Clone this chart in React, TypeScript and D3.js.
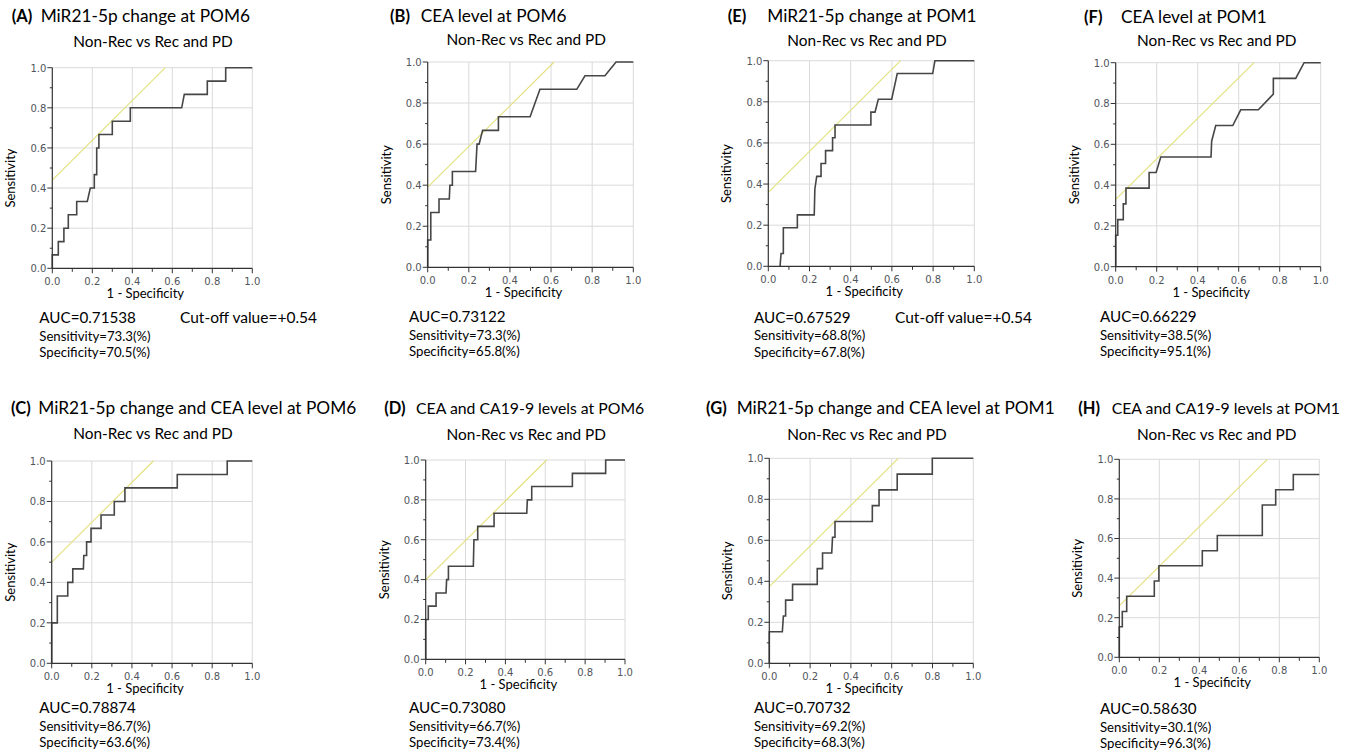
import React from 'react';
import * as d3 from 'd3';

type Pt = [number, number];

// ROC step curves: [1 - specificity, sensitivity]
const rocA: Pt[] = [
  [0, 0], [0, 0.067], [0.03, 0.067], [0.03, 0.133], [0.058, 0.133], [0.058, 0.2],
  [0.08, 0.2], [0.08, 0.267], [0.122, 0.267], [0.122, 0.333], [0.175, 0.333],
  [0.19, 0.4], [0.21, 0.4], [0.21, 0.467], [0.222, 0.467], [0.222, 0.6],
  [0.233, 0.6], [0.233, 0.667], [0.3, 0.667], [0.3, 0.733], [0.39, 0.733],
  [0.39, 0.8], [0.647, 0.8], [0.66, 0.867], [0.775, 0.867], [0.775, 0.933],
  [0.867, 0.933], [0.867, 1], [1, 1]
];
const rocB: Pt[] = [
  [0, 0], [0, 0.133], [0.015, 0.133], [0.015, 0.267], [0.055, 0.267], [0.055, 0.333],
  [0.105, 0.333], [0.108, 0.4], [0.12, 0.4], [0.12, 0.467], [0.233, 0.467],
  [0.24, 0.6], [0.25, 0.6], [0.267, 0.667], [0.344, 0.667], [0.344, 0.733],
  [0.498, 0.733], [0.546, 0.867], [0.725, 0.867], [0.765, 0.933], [0.862, 0.933],
  [0.916, 1], [1, 1]
];
const rocE: Pt[] = [
  [0.057, 0], [0.062, 0.0625], [0.073, 0.0625], [0.073, 0.1875], [0.141, 0.1875],
  [0.141, 0.25], [0.223, 0.25], [0.226, 0.375], [0.235, 0.4375], [0.256, 0.4375],
  [0.256, 0.5], [0.278, 0.5], [0.278, 0.5625], [0.312, 0.5625], [0.312, 0.625],
  [0.324, 0.625], [0.324, 0.6875], [0.498, 0.6875], [0.498, 0.75], [0.518, 0.75],
  [0.534, 0.8125], [0.599, 0.8125], [0.626, 0.9375], [0.798, 0.9375], [0.809, 1], [1, 1]
];
const rocF: Pt[] = [
  [0, 0], [0, 0.154], [0.01, 0.154], [0.01, 0.231], [0.037, 0.231], [0.037, 0.308],
  [0.05, 0.308], [0.05, 0.385], [0.163, 0.385], [0.163, 0.462], [0.197, 0.462],
  [0.22, 0.538], [0.465, 0.538], [0.468, 0.615], [0.488, 0.692], [0.571, 0.692],
  [0.61, 0.769], [0.696, 0.769], [0.769, 0.846], [0.769, 0.923], [0.878, 0.923],
  [0.919, 1], [1, 1]
];
const rocC: Pt[] = [
  [0, 0], [0, 0.2], [0.028, 0.2], [0.028, 0.333], [0.08, 0.333], [0.08, 0.4],
  [0.105, 0.4], [0.105, 0.467], [0.158, 0.467], [0.16, 0.533], [0.174, 0.533],
  [0.174, 0.6], [0.196, 0.6], [0.196, 0.667], [0.246, 0.667], [0.246, 0.733],
  [0.312, 0.733], [0.312, 0.8], [0.365, 0.8], [0.365, 0.867], [0.626, 0.867],
  [0.626, 0.933], [0.875, 0.933], [0.875, 1], [1, 1]
];
const rocD: Pt[] = [
  [0, 0], [0, 0.2], [0.013, 0.2], [0.013, 0.267], [0.052, 0.267], [0.052, 0.333],
  [0.102, 0.333], [0.105, 0.4], [0.114, 0.4], [0.114, 0.467], [0.239, 0.467],
  [0.242, 0.6], [0.261, 0.6], [0.261, 0.667], [0.343, 0.667], [0.343, 0.733],
  [0.507, 0.733], [0.51, 0.8], [0.532, 0.8], [0.532, 0.867], [0.736, 0.867],
  [0.736, 0.933], [0.903, 0.933], [0.903, 1], [1, 1]
];
const rocG: Pt[] = [
  [0, 0], [0, 0.154], [0.064, 0.154], [0.069, 0.231], [0.08, 0.231], [0.08, 0.308],
  [0.114, 0.308], [0.114, 0.385], [0.235, 0.385], [0.235, 0.462], [0.261, 0.462],
  [0.261, 0.538], [0.306, 0.538], [0.31, 0.615], [0.322, 0.615], [0.322, 0.692],
  [0.505, 0.692], [0.505, 0.769], [0.538, 0.769], [0.538, 0.846], [0.627, 0.846],
  [0.627, 0.923], [0.799, 0.923], [0.799, 1], [1, 1]
];
const rocH: Pt[] = [
  [0, 0], [0, 0.154], [0.015, 0.154], [0.015, 0.231], [0.037, 0.231], [0.037, 0.308],
  [0.175, 0.308], [0.175, 0.385], [0.198, 0.385], [0.198, 0.462], [0.415, 0.462],
  [0.415, 0.538], [0.49, 0.538], [0.49, 0.615], [0.715, 0.615], [0.715, 0.769],
  [0.782, 0.769], [0.782, 0.846], [0.87, 0.846], [0.87, 0.923], [1, 0.923]
];

// yellow tangent line at the cut-off point (start on y axis, end on top edge)
const cutLineA: Pt[] = [[0, 0.44], [0.565, 1]];
const cutLineB: Pt[] = [[0, 0.39], [0.615, 1]];
const cutLineE: Pt[] = [[0, 0.36], [0.642, 1]];
const cutLineF: Pt[] = [[0, 0.33], [0.675, 1]];
const cutLineC: Pt[] = [[0, 0.5], [0.507, 1]];
const cutLineD: Pt[] = [[0, 0.398], [0.607, 1]];
const cutLineG: Pt[] = [[0, 0.374], [0.632, 1]];
const cutLineH: Pt[] = [[0, 0.26], [0.74, 1]];

const panelLetters = ['A', 'B', 'E', 'F', 'C', 'D', 'G', 'H'];
const panelTitles = [
  'MiR21-5p change at POM6',
  'CEA level at POM6',
  'MiR21-5p change at POM1',
  'CEA level at POM1',
  'MiR21-5p change and CEA level at POM6',
  'CEA and CA19-9 levels at POM6',
  'MiR21-5p change and CEA level at POM1',
  'CEA and CA19-9 levels at POM1'
];
const subTitle = 'Non-Rec vs Rec and PD';
const aucValues = ['0.71538', '0.73122', '0.67529', '0.66229', '0.78874', '0.73080', '0.70732', '0.58630'];
const sensValues = ['73.3', '73.3', '68.8', '38.5', '86.7', '66.7', '69.2', '30.1'];
const specValues = ['70.5', '65.8', '67.8', '95.1', '63.6', '73.4', '68.3', '96.3'];
const cutoffValues = ['+0.54', '', '+0.54', '', '', '', '', ''];
const axisTicks = [0, 0.2, 0.4, 0.6, 0.8, 1.0];

const rocCurves = [rocA, rocB, rocE, rocF, rocC, rocD, rocG, rocH];
const cutLines = [cutLineA, cutLineB, cutLineE, cutLineF, cutLineC, cutLineD, cutLineG, cutLineH];

// where each panel sits on the page
const layout = [
  { x: 52.3, y: 67.7, w: 200, h: 200.6, labelX: 11.7, titleX: 40.7, titleY: 21.7, titleSize: 17.3, subX: 153, subY: 46.5, aucX: 39.3, aucY: 323.3, cutX: 180 },
  { x: 427.7, y: 62, w: 205.6, h: 205.3, labelX: 390, titleX: 420.7, titleY: 21.7, titleSize: 17.3, subX: 526.3, subY: 45, aucX: 409, aucY: 322, cutX: 0 },
  { x: 768.3, y: 60.7, w: 206, h: 205.6, labelX: 727.7, titleX: 767.3, titleY: 22, titleSize: 17.3, subX: 867, subY: 45.7, aucX: 754, aucY: 322.7, cutX: 895 },
  { x: 1115.7, y: 62.7, w: 205, h: 204, labelX: 1084, titleX: 1121, titleY: 22.5, titleSize: 17.3, subX: 1216.7, subY: 45.7, aucX: 1100, aucY: 322.3, cutX: 0 },
  { x: 51.7, y: 461, w: 200.6, h: 202.3, labelX: 11, titleX: 38.3, titleY: 414.3, titleSize: 17.3, subX: 153, subY: 439.3, aucX: 39.3, aucY: 713.3, cutX: 0 },
  { x: 425.7, y: 460, w: 199.3, h: 199.3, labelX: 384.3, titleX: 416, titleY: 414.3, titleSize: 15.8, subX: 526.3, subY: 440, aucX: 409, aucY: 713.3, cutX: 0 },
  { x: 769.3, y: 458.3, w: 204, h: 205, labelX: 706, titleX: 736.7, titleY: 414.3, titleSize: 17.3, subX: 867, subY: 440, aucX: 754, aucY: 713.3, cutX: 0 },
  { x: 1119.3, y: 459.3, w: 200, h: 198, labelX: 1078.3, titleX: 1111.7, titleY: 414.3, titleSize: 15.8, subX: 1216.7, subY: 440, aucX: 1100, aucY: 714, cutX: 0 }
];

const textFont = 'Lato, "Open Sans", sans-serif';
const tickFont = '"DejaVu Sans", sans-serif';
const fmt = d3.format('.1f');

const RocPanel = ({ i }: { i: number }) => {
  const p = layout[i];
  const x = d3.scaleLinear().domain([0, 1]).range([p.x, p.x + p.w]);
  const y = d3.scaleLinear().domain([0, 1]).range([p.y + p.h, p.y]);
  const line = d3.line<Pt>().x((d) => x(d[0])).y((d) => y(d[1]));
  const minor = x.ticks(10);

  return (
    <g>
      {/* title */}
      <text x={p.labelX} y={p.titleY} fontFamily={textFont} fontSize={16.5} fontWeight="bold" fill="#000">
        ({panelLetters[i]})
      </text>
      <text x={p.titleX} y={p.titleY} fontFamily={textFont} fontSize={p.titleSize} fill="#000">
        {panelTitles[i]}
      </text>
      <text x={p.subX} y={p.subY} fontFamily={textFont} fontSize={15.4} textAnchor="middle" fill="#000">
        {subTitle}
      </text>

      {/* grid */}
      {axisTicks.slice(1).map((t) => (
        <g key={'g' + t}>
          <line x1={x(t)} x2={x(t)} y1={y(0)} y2={y(1)} stroke="#dadada" strokeWidth={1} />
          <line x1={x(0)} x2={x(1)} y1={y(t)} y2={y(t)} stroke="#dadada" strokeWidth={1} />
        </g>
      ))}

      {/* cut-off tangent */}
      <path d={line(cutLines[i]) || ''} fill="none" stroke="#e3e07c" strokeWidth={1.1} />

      {/* roc curve */}
      <path d={line(rocCurves[i]) || ''} fill="none" stroke="#464646" strokeWidth={1.6} strokeLinejoin="miter" />

      {/* axes */}
      <line x1={x(0)} x2={x(0)} y1={y(0) + 0.5} y2={y(1)} stroke="#333" strokeWidth={1.2} />
      <line x1={x(0)} x2={x(1)} y1={y(0)} y2={y(0)} stroke="#333" strokeWidth={1.2} />
      {minor.map((t, k) => (
        <g key={'t' + k}>
          <line x1={x(t)} x2={x(t)} y1={y(0)} y2={y(0) + (k % 2 === 0 ? 5 : 3.5)} stroke="#333" strokeWidth={1} />
          <line x1={x(0)} x2={x(0) - (k % 2 === 0 ? 5 : 2.5)} y1={y(t)} y2={y(t)} stroke="#333" strokeWidth={1} />
        </g>
      ))}
      {axisTicks.map((t) => (
        <g key={'l' + t}>
          <text x={x(t)} y={y(0) + 17} fontFamily={tickFont} fontSize={10} fill="#51555c" textAnchor="middle">
            {fmt(t)}
          </text>
          <text x={x(0) - 6} y={y(t) + 3.8} fontFamily={tickFont} fontSize={10} fill="#51555c" textAnchor="end">
            {fmt(t)}
          </text>
        </g>
      ))}

      {/* axis labels */}
      <text x={x(0.5) - 7} y={y(0) + 30} fontFamily={textFont} fontSize={13} textAnchor="middle" fill="#000">
        1 - Specificity
      </text>
      <text
        transform={`translate(${x(0) - 37}, ${y(0.5) + 10}) rotate(-90)`}
        fontFamily={textFont}
        fontSize={13}
        textAnchor="middle"
        fill="#000"
      >
        Sensitivity
      </text>

      {/* stats */}
      <text x={p.aucX} y={p.aucY} fontFamily={textFont} fontSize={15.2} fill="#000">
        AUC={aucValues[i]}
      </text>
      <text x={p.aucX} y={p.aucY + 17.5} fontFamily={textFont} fontSize={13.2} fill="#000">
        Sensitivity={sensValues[i]}(%)
      </text>
      <text x={p.aucX} y={p.aucY + 34} fontFamily={textFont} fontSize={13.2} fill="#000">
        Specificity={specValues[i]}(%)
      </text>
      {cutoffValues[i] !== '' && (
        <text x={p.cutX} y={p.aucY} fontFamily={textFont} fontSize={15.5} fill="#000">
          Cut-off value={cutoffValues[i]}
        </text>
      )}
    </g>
  );
};

const App = () => {
  return (
    <svg
      width={1351}
      height={754}
      style={{ position: 'absolute', left: 0, top: 0, background: '#fff' }}
    >
      {layout.map((_, i) => (
        <RocPanel key={i} i={i} />
      ))}
    </svg>
  );
};

export default App;
